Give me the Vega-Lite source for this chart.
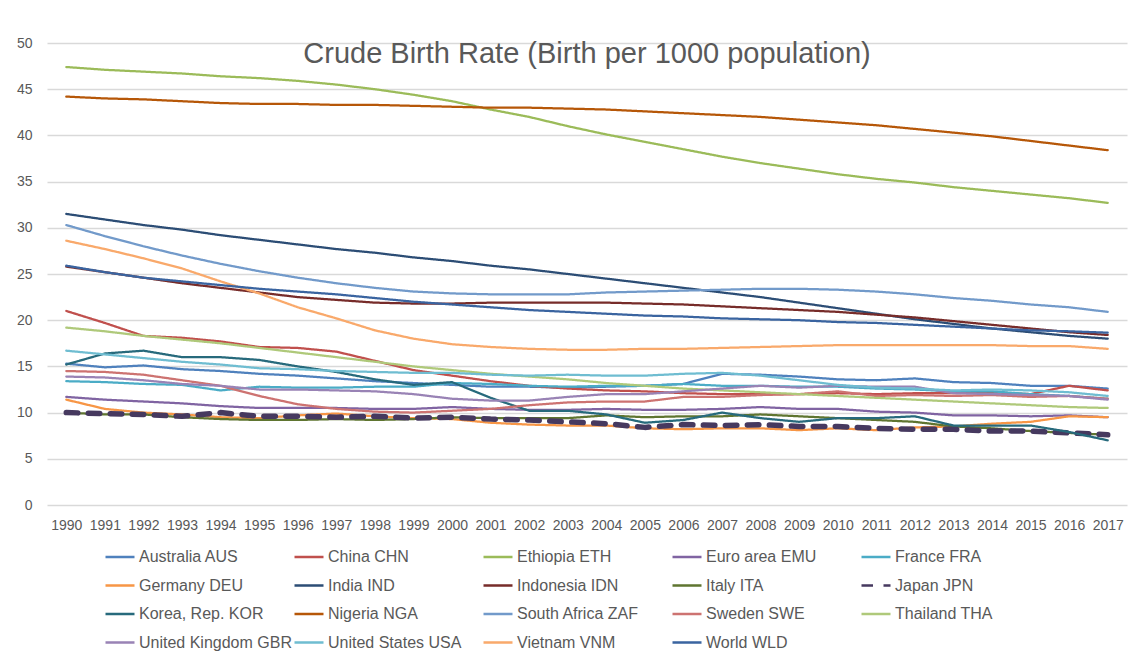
{
"$schema": "https://vega.github.io/schema/vega-lite/v6.json",
"autosize": {"type": "none"},
"width": 1080,
"height": 462,
"padding": {"left": 47, "top": 43, "right": 4, "bottom": 149},
"background": "white",
"config": {"view": {"stroke": null}},
"title": {"text": "Crude Birth Rate (Birth per 1000 population)", "frame": "group", "anchor": "middle", "font": "Liberation Sans", "fontSize": 29, "fontWeight": "normal", "color": "#595959", "baseline": "alphabetic", "offset": -56},
"data": {"values": [
{"c":"Australia AUS","y":1990,"v":15.3},{"c":"Australia AUS","y":1991,"v":14.9},{"c":"Australia AUS","y":1992,"v":15.1},{"c":"Australia AUS","y":1993,"v":14.7},{"c":"Australia AUS","y":1994,"v":14.5},{"c":"Australia AUS","y":1995,"v":14.2},{"c":"Australia AUS","y":1996,"v":14.0},{"c":"Australia AUS","y":1997,"v":13.7},{"c":"Australia AUS","y":1998,"v":13.4},{"c":"Australia AUS","y":1999,"v":13.2},{"c":"Australia AUS","y":2000,"v":13.0},{"c":"Australia AUS","y":2001,"v":12.8},{"c":"Australia AUS","y":2002,"v":12.8},{"c":"Australia AUS","y":2003,"v":12.7},{"c":"Australia AUS","y":2004,"v":12.8},{"c":"Australia AUS","y":2005,"v":12.9},{"c":"Australia AUS","y":2006,"v":13.1},{"c":"Australia AUS","y":2007,"v":14.2},{"c":"Australia AUS","y":2008,"v":14.1},{"c":"Australia AUS","y":2009,"v":13.9},{"c":"Australia AUS","y":2010,"v":13.6},{"c":"Australia AUS","y":2011,"v":13.5},{"c":"Australia AUS","y":2012,"v":13.7},{"c":"Australia AUS","y":2013,"v":13.3},{"c":"Australia AUS","y":2014,"v":13.2},{"c":"Australia AUS","y":2015,"v":12.9},{"c":"Australia AUS","y":2016,"v":12.9},{"c":"Australia AUS","y":2017,"v":12.6},
{"c":"China CHN","y":1990,"v":21.0},{"c":"China CHN","y":1991,"v":19.7},{"c":"China CHN","y":1992,"v":18.3},{"c":"China CHN","y":1993,"v":18.1},{"c":"China CHN","y":1994,"v":17.7},{"c":"China CHN","y":1995,"v":17.1},{"c":"China CHN","y":1996,"v":17.0},{"c":"China CHN","y":1997,"v":16.6},{"c":"China CHN","y":1998,"v":15.6},{"c":"China CHN","y":1999,"v":14.6},{"c":"China CHN","y":2000,"v":14.0},{"c":"China CHN","y":2001,"v":13.4},{"c":"China CHN","y":2002,"v":12.9},{"c":"China CHN","y":2003,"v":12.6},{"c":"China CHN","y":2004,"v":12.4},{"c":"China CHN","y":2005,"v":12.3},{"c":"China CHN","y":2006,"v":12.1},{"c":"China CHN","y":2007,"v":12.0},{"c":"China CHN","y":2008,"v":12.0},{"c":"China CHN","y":2009,"v":12.0},{"c":"China CHN","y":2010,"v":12.1},{"c":"China CHN","y":2011,"v":12.0},{"c":"China CHN","y":2012,"v":12.1},{"c":"China CHN","y":2013,"v":12.1},{"c":"China CHN","y":2014,"v":12.2},{"c":"China CHN","y":2015,"v":12.0},{"c":"China CHN","y":2016,"v":12.9},{"c":"China CHN","y":2017,"v":12.4},
{"c":"Ethiopia ETH","y":1990,"v":47.4},{"c":"Ethiopia ETH","y":1991,"v":47.1},{"c":"Ethiopia ETH","y":1992,"v":46.9},{"c":"Ethiopia ETH","y":1993,"v":46.7},{"c":"Ethiopia ETH","y":1994,"v":46.4},{"c":"Ethiopia ETH","y":1995,"v":46.2},{"c":"Ethiopia ETH","y":1996,"v":45.9},{"c":"Ethiopia ETH","y":1997,"v":45.5},{"c":"Ethiopia ETH","y":1998,"v":45.0},{"c":"Ethiopia ETH","y":1999,"v":44.4},{"c":"Ethiopia ETH","y":2000,"v":43.7},{"c":"Ethiopia ETH","y":2001,"v":42.8},{"c":"Ethiopia ETH","y":2002,"v":42.0},{"c":"Ethiopia ETH","y":2003,"v":41.0},{"c":"Ethiopia ETH","y":2004,"v":40.1},{"c":"Ethiopia ETH","y":2005,"v":39.3},{"c":"Ethiopia ETH","y":2006,"v":38.5},{"c":"Ethiopia ETH","y":2007,"v":37.7},{"c":"Ethiopia ETH","y":2008,"v":37.0},{"c":"Ethiopia ETH","y":2009,"v":36.4},{"c":"Ethiopia ETH","y":2010,"v":35.8},{"c":"Ethiopia ETH","y":2011,"v":35.3},{"c":"Ethiopia ETH","y":2012,"v":34.9},{"c":"Ethiopia ETH","y":2013,"v":34.4},{"c":"Ethiopia ETH","y":2014,"v":34.0},{"c":"Ethiopia ETH","y":2015,"v":33.6},{"c":"Ethiopia ETH","y":2016,"v":33.2},{"c":"Ethiopia ETH","y":2017,"v":32.7},
{"c":"Euro area EMU","y":1990,"v":11.7},{"c":"Euro area EMU","y":1991,"v":11.4},{"c":"Euro area EMU","y":1992,"v":11.2},{"c":"Euro area EMU","y":1993,"v":11.0},{"c":"Euro area EMU","y":1994,"v":10.7},{"c":"Euro area EMU","y":1995,"v":10.5},{"c":"Euro area EMU","y":1996,"v":10.5},{"c":"Euro area EMU","y":1997,"v":10.5},{"c":"Euro area EMU","y":1998,"v":10.4},{"c":"Euro area EMU","y":1999,"v":10.4},{"c":"Euro area EMU","y":2000,"v":10.6},{"c":"Euro area EMU","y":2001,"v":10.4},{"c":"Euro area EMU","y":2002,"v":10.3},{"c":"Euro area EMU","y":2003,"v":10.3},{"c":"Euro area EMU","y":2004,"v":10.4},{"c":"Euro area EMU","y":2005,"v":10.3},{"c":"Euro area EMU","y":2006,"v":10.3},{"c":"Euro area EMU","y":2007,"v":10.4},{"c":"Euro area EMU","y":2008,"v":10.6},{"c":"Euro area EMU","y":2009,"v":10.4},{"c":"Euro area EMU","y":2010,"v":10.4},{"c":"Euro area EMU","y":2011,"v":10.1},{"c":"Euro area EMU","y":2012,"v":10.0},{"c":"Euro area EMU","y":2013,"v":9.7},{"c":"Euro area EMU","y":2014,"v":9.7},{"c":"Euro area EMU","y":2015,"v":9.6},{"c":"Euro area EMU","y":2016,"v":9.7},{"c":"Euro area EMU","y":2017,"v":9.5},
{"c":"France FRA","y":1990,"v":13.4},{"c":"France FRA","y":1991,"v":13.3},{"c":"France FRA","y":1992,"v":13.1},{"c":"France FRA","y":1993,"v":13.0},{"c":"France FRA","y":1994,"v":12.4},{"c":"France FRA","y":1995,"v":12.8},{"c":"France FRA","y":1996,"v":12.7},{"c":"France FRA","y":1997,"v":12.7},{"c":"France FRA","y":1998,"v":12.8},{"c":"France FRA","y":1999,"v":12.8},{"c":"France FRA","y":2000,"v":13.2},{"c":"France FRA","y":2001,"v":13.1},{"c":"France FRA","y":2002,"v":12.9},{"c":"France FRA","y":2003,"v":12.8},{"c":"France FRA","y":2004,"v":12.9},{"c":"France FRA","y":2005,"v":12.9},{"c":"France FRA","y":2006,"v":13.1},{"c":"France FRA","y":2007,"v":12.9},{"c":"France FRA","y":2008,"v":12.9},{"c":"France FRA","y":2009,"v":12.8},{"c":"France FRA","y":2010,"v":12.8},{"c":"France FRA","y":2011,"v":12.6},{"c":"France FRA","y":2012,"v":12.5},{"c":"France FRA","y":2013,"v":12.3},{"c":"France FRA","y":2014,"v":12.3},{"c":"France FRA","y":2015,"v":12.0},{"c":"France FRA","y":2016,"v":11.8},{"c":"France FRA","y":2017,"v":11.5},
{"c":"Germany DEU","y":1990,"v":11.4},{"c":"Germany DEU","y":1991,"v":10.4},{"c":"Germany DEU","y":1992,"v":10.0},{"c":"Germany DEU","y":1993,"v":9.8},{"c":"Germany DEU","y":1994,"v":9.5},{"c":"Germany DEU","y":1995,"v":9.4},{"c":"Germany DEU","y":1996,"v":9.7},{"c":"Germany DEU","y":1997,"v":9.9},{"c":"Germany DEU","y":1998,"v":9.6},{"c":"Germany DEU","y":1999,"v":9.4},{"c":"Germany DEU","y":2000,"v":9.3},{"c":"Germany DEU","y":2001,"v":8.9},{"c":"Germany DEU","y":2002,"v":8.7},{"c":"Germany DEU","y":2003,"v":8.6},{"c":"Germany DEU","y":2004,"v":8.6},{"c":"Germany DEU","y":2005,"v":8.3},{"c":"Germany DEU","y":2006,"v":8.2},{"c":"Germany DEU","y":2007,"v":8.3},{"c":"Germany DEU","y":2008,"v":8.3},{"c":"Germany DEU","y":2009,"v":8.1},{"c":"Germany DEU","y":2010,"v":8.3},{"c":"Germany DEU","y":2011,"v":8.1},{"c":"Germany DEU","y":2012,"v":8.4},{"c":"Germany DEU","y":2013,"v":8.5},{"c":"Germany DEU","y":2014,"v":8.8},{"c":"Germany DEU","y":2015,"v":9.0},{"c":"Germany DEU","y":2016,"v":9.6},{"c":"Germany DEU","y":2017,"v":9.5},
{"c":"India IND","y":1990,"v":31.5},{"c":"India IND","y":1991,"v":30.9},{"c":"India IND","y":1992,"v":30.3},{"c":"India IND","y":1993,"v":29.8},{"c":"India IND","y":1994,"v":29.2},{"c":"India IND","y":1995,"v":28.7},{"c":"India IND","y":1996,"v":28.2},{"c":"India IND","y":1997,"v":27.7},{"c":"India IND","y":1998,"v":27.3},{"c":"India IND","y":1999,"v":26.8},{"c":"India IND","y":2000,"v":26.4},{"c":"India IND","y":2001,"v":25.9},{"c":"India IND","y":2002,"v":25.5},{"c":"India IND","y":2003,"v":25.0},{"c":"India IND","y":2004,"v":24.5},{"c":"India IND","y":2005,"v":24.0},{"c":"India IND","y":2006,"v":23.5},{"c":"India IND","y":2007,"v":23.0},{"c":"India IND","y":2008,"v":22.5},{"c":"India IND","y":2009,"v":21.9},{"c":"India IND","y":2010,"v":21.3},{"c":"India IND","y":2011,"v":20.7},{"c":"India IND","y":2012,"v":20.1},{"c":"India IND","y":2013,"v":19.6},{"c":"India IND","y":2014,"v":19.1},{"c":"India IND","y":2015,"v":18.7},{"c":"India IND","y":2016,"v":18.3},{"c":"India IND","y":2017,"v":18.0},
{"c":"Indonesia IDN","y":1990,"v":25.8},{"c":"Indonesia IDN","y":1991,"v":25.2},{"c":"Indonesia IDN","y":1992,"v":24.6},{"c":"Indonesia IDN","y":1993,"v":24.0},{"c":"Indonesia IDN","y":1994,"v":23.5},{"c":"Indonesia IDN","y":1995,"v":23.0},{"c":"Indonesia IDN","y":1996,"v":22.5},{"c":"Indonesia IDN","y":1997,"v":22.2},{"c":"Indonesia IDN","y":1998,"v":21.9},{"c":"Indonesia IDN","y":1999,"v":21.8},{"c":"Indonesia IDN","y":2000,"v":21.8},{"c":"Indonesia IDN","y":2001,"v":21.9},{"c":"Indonesia IDN","y":2002,"v":21.9},{"c":"Indonesia IDN","y":2003,"v":21.9},{"c":"Indonesia IDN","y":2004,"v":21.9},{"c":"Indonesia IDN","y":2005,"v":21.8},{"c":"Indonesia IDN","y":2006,"v":21.7},{"c":"Indonesia IDN","y":2007,"v":21.5},{"c":"Indonesia IDN","y":2008,"v":21.3},{"c":"Indonesia IDN","y":2009,"v":21.1},{"c":"Indonesia IDN","y":2010,"v":20.9},{"c":"Indonesia IDN","y":2011,"v":20.6},{"c":"Indonesia IDN","y":2012,"v":20.3},{"c":"Indonesia IDN","y":2013,"v":19.9},{"c":"Indonesia IDN","y":2014,"v":19.5},{"c":"Indonesia IDN","y":2015,"v":19.1},{"c":"Indonesia IDN","y":2016,"v":18.7},{"c":"Indonesia IDN","y":2017,"v":18.4},
{"c":"Italy ITA","y":1990,"v":10.0},{"c":"Italy ITA","y":1991,"v":9.8},{"c":"Italy ITA","y":1992,"v":9.8},{"c":"Italy ITA","y":1993,"v":9.5},{"c":"Italy ITA","y":1994,"v":9.3},{"c":"Italy ITA","y":1995,"v":9.2},{"c":"Italy ITA","y":1996,"v":9.2},{"c":"Italy ITA","y":1997,"v":9.3},{"c":"Italy ITA","y":1998,"v":9.2},{"c":"Italy ITA","y":1999,"v":9.3},{"c":"Italy ITA","y":2000,"v":9.5},{"c":"Italy ITA","y":2001,"v":9.4},{"c":"Italy ITA","y":2002,"v":9.4},{"c":"Italy ITA","y":2003,"v":9.4},{"c":"Italy ITA","y":2004,"v":9.7},{"c":"Italy ITA","y":2005,"v":9.5},{"c":"Italy ITA","y":2006,"v":9.6},{"c":"Italy ITA","y":2007,"v":9.6},{"c":"Italy ITA","y":2008,"v":9.8},{"c":"Italy ITA","y":2009,"v":9.6},{"c":"Italy ITA","y":2010,"v":9.4},{"c":"Italy ITA","y":2011,"v":9.2},{"c":"Italy ITA","y":2012,"v":9.0},{"c":"Italy ITA","y":2013,"v":8.5},{"c":"Italy ITA","y":2014,"v":8.3},{"c":"Italy ITA","y":2015,"v":8.0},{"c":"Italy ITA","y":2016,"v":7.8},{"c":"Italy ITA","y":2017,"v":7.6},
{"c":"Japan JPN","y":1990,"v":10.0},{"c":"Japan JPN","y":1991,"v":9.9},{"c":"Japan JPN","y":1992,"v":9.8},{"c":"Japan JPN","y":1993,"v":9.6},{"c":"Japan JPN","y":1994,"v":10.0},{"c":"Japan JPN","y":1995,"v":9.6},{"c":"Japan JPN","y":1996,"v":9.6},{"c":"Japan JPN","y":1997,"v":9.5},{"c":"Japan JPN","y":1998,"v":9.6},{"c":"Japan JPN","y":1999,"v":9.4},{"c":"Japan JPN","y":2000,"v":9.5},{"c":"Japan JPN","y":2001,"v":9.3},{"c":"Japan JPN","y":2002,"v":9.2},{"c":"Japan JPN","y":2003,"v":9.0},{"c":"Japan JPN","y":2004,"v":8.8},{"c":"Japan JPN","y":2005,"v":8.4},{"c":"Japan JPN","y":2006,"v":8.7},{"c":"Japan JPN","y":2007,"v":8.6},{"c":"Japan JPN","y":2008,"v":8.7},{"c":"Japan JPN","y":2009,"v":8.5},{"c":"Japan JPN","y":2010,"v":8.5},{"c":"Japan JPN","y":2011,"v":8.3},{"c":"Japan JPN","y":2012,"v":8.2},{"c":"Japan JPN","y":2013,"v":8.2},{"c":"Japan JPN","y":2014,"v":8.0},{"c":"Japan JPN","y":2015,"v":8.0},{"c":"Japan JPN","y":2016,"v":7.8},{"c":"Japan JPN","y":2017,"v":7.6},
{"c":"Korea, Rep. KOR","y":1990,"v":15.2},{"c":"Korea, Rep. KOR","y":1991,"v":16.4},{"c":"Korea, Rep. KOR","y":1992,"v":16.7},{"c":"Korea, Rep. KOR","y":1993,"v":16.0},{"c":"Korea, Rep. KOR","y":1994,"v":16.0},{"c":"Korea, Rep. KOR","y":1995,"v":15.7},{"c":"Korea, Rep. KOR","y":1996,"v":15.0},{"c":"Korea, Rep. KOR","y":1997,"v":14.4},{"c":"Korea, Rep. KOR","y":1998,"v":13.6},{"c":"Korea, Rep. KOR","y":1999,"v":13.0},{"c":"Korea, Rep. KOR","y":2000,"v":13.3},{"c":"Korea, Rep. KOR","y":2001,"v":11.6},{"c":"Korea, Rep. KOR","y":2002,"v":10.2},{"c":"Korea, Rep. KOR","y":2003,"v":10.2},{"c":"Korea, Rep. KOR","y":2004,"v":9.8},{"c":"Korea, Rep. KOR","y":2005,"v":8.9},{"c":"Korea, Rep. KOR","y":2006,"v":9.2},{"c":"Korea, Rep. KOR","y":2007,"v":10.0},{"c":"Korea, Rep. KOR","y":2008,"v":9.4},{"c":"Korea, Rep. KOR","y":2009,"v":9.0},{"c":"Korea, Rep. KOR","y":2010,"v":9.4},{"c":"Korea, Rep. KOR","y":2011,"v":9.4},{"c":"Korea, Rep. KOR","y":2012,"v":9.6},{"c":"Korea, Rep. KOR","y":2013,"v":8.6},{"c":"Korea, Rep. KOR","y":2014,"v":8.6},{"c":"Korea, Rep. KOR","y":2015,"v":8.6},{"c":"Korea, Rep. KOR","y":2016,"v":7.9},{"c":"Korea, Rep. KOR","y":2017,"v":7.0},
{"c":"Nigeria NGA","y":1990,"v":44.2},{"c":"Nigeria NGA","y":1991,"v":44.0},{"c":"Nigeria NGA","y":1992,"v":43.9},{"c":"Nigeria NGA","y":1993,"v":43.7},{"c":"Nigeria NGA","y":1994,"v":43.5},{"c":"Nigeria NGA","y":1995,"v":43.4},{"c":"Nigeria NGA","y":1996,"v":43.4},{"c":"Nigeria NGA","y":1997,"v":43.3},{"c":"Nigeria NGA","y":1998,"v":43.3},{"c":"Nigeria NGA","y":1999,"v":43.2},{"c":"Nigeria NGA","y":2000,"v":43.1},{"c":"Nigeria NGA","y":2001,"v":43.0},{"c":"Nigeria NGA","y":2002,"v":43.0},{"c":"Nigeria NGA","y":2003,"v":42.9},{"c":"Nigeria NGA","y":2004,"v":42.8},{"c":"Nigeria NGA","y":2005,"v":42.6},{"c":"Nigeria NGA","y":2006,"v":42.4},{"c":"Nigeria NGA","y":2007,"v":42.2},{"c":"Nigeria NGA","y":2008,"v":42.0},{"c":"Nigeria NGA","y":2009,"v":41.7},{"c":"Nigeria NGA","y":2010,"v":41.4},{"c":"Nigeria NGA","y":2011,"v":41.1},{"c":"Nigeria NGA","y":2012,"v":40.7},{"c":"Nigeria NGA","y":2013,"v":40.3},{"c":"Nigeria NGA","y":2014,"v":39.9},{"c":"Nigeria NGA","y":2015,"v":39.4},{"c":"Nigeria NGA","y":2016,"v":38.9},{"c":"Nigeria NGA","y":2017,"v":38.4},
{"c":"South Africa ZAF","y":1990,"v":30.3},{"c":"South Africa ZAF","y":1991,"v":29.1},{"c":"South Africa ZAF","y":1992,"v":28.0},{"c":"South Africa ZAF","y":1993,"v":27.0},{"c":"South Africa ZAF","y":1994,"v":26.1},{"c":"South Africa ZAF","y":1995,"v":25.3},{"c":"South Africa ZAF","y":1996,"v":24.6},{"c":"South Africa ZAF","y":1997,"v":24.0},{"c":"South Africa ZAF","y":1998,"v":23.5},{"c":"South Africa ZAF","y":1999,"v":23.1},{"c":"South Africa ZAF","y":2000,"v":22.9},{"c":"South Africa ZAF","y":2001,"v":22.8},{"c":"South Africa ZAF","y":2002,"v":22.8},{"c":"South Africa ZAF","y":2003,"v":22.8},{"c":"South Africa ZAF","y":2004,"v":23.0},{"c":"South Africa ZAF","y":2005,"v":23.1},{"c":"South Africa ZAF","y":2006,"v":23.2},{"c":"South Africa ZAF","y":2007,"v":23.3},{"c":"South Africa ZAF","y":2008,"v":23.4},{"c":"South Africa ZAF","y":2009,"v":23.4},{"c":"South Africa ZAF","y":2010,"v":23.3},{"c":"South Africa ZAF","y":2011,"v":23.1},{"c":"South Africa ZAF","y":2012,"v":22.8},{"c":"South Africa ZAF","y":2013,"v":22.4},{"c":"South Africa ZAF","y":2014,"v":22.1},{"c":"South Africa ZAF","y":2015,"v":21.7},{"c":"South Africa ZAF","y":2016,"v":21.4},{"c":"South Africa ZAF","y":2017,"v":20.9},
{"c":"Sweden SWE","y":1990,"v":14.5},{"c":"Sweden SWE","y":1991,"v":14.4},{"c":"Sweden SWE","y":1992,"v":14.1},{"c":"Sweden SWE","y":1993,"v":13.5},{"c":"Sweden SWE","y":1994,"v":12.9},{"c":"Sweden SWE","y":1995,"v":11.8},{"c":"Sweden SWE","y":1996,"v":10.9},{"c":"Sweden SWE","y":1997,"v":10.4},{"c":"Sweden SWE","y":1998,"v":10.1},{"c":"Sweden SWE","y":1999,"v":10.0},{"c":"Sweden SWE","y":2000,"v":10.2},{"c":"Sweden SWE","y":2001,"v":10.4},{"c":"Sweden SWE","y":2002,"v":10.8},{"c":"Sweden SWE","y":2003,"v":11.1},{"c":"Sweden SWE","y":2004,"v":11.2},{"c":"Sweden SWE","y":2005,"v":11.2},{"c":"Sweden SWE","y":2006,"v":11.7},{"c":"Sweden SWE","y":2007,"v":11.7},{"c":"Sweden SWE","y":2008,"v":11.9},{"c":"Sweden SWE","y":2009,"v":12.0},{"c":"Sweden SWE","y":2010,"v":12.3},{"c":"Sweden SWE","y":2011,"v":11.8},{"c":"Sweden SWE","y":2012,"v":11.9},{"c":"Sweden SWE","y":2013,"v":11.8},{"c":"Sweden SWE","y":2014,"v":11.9},{"c":"Sweden SWE","y":2015,"v":11.7},{"c":"Sweden SWE","y":2016,"v":11.8},{"c":"Sweden SWE","y":2017,"v":11.5},
{"c":"Thailand THA","y":1990,"v":19.2},{"c":"Thailand THA","y":1991,"v":18.8},{"c":"Thailand THA","y":1992,"v":18.3},{"c":"Thailand THA","y":1993,"v":17.9},{"c":"Thailand THA","y":1994,"v":17.5},{"c":"Thailand THA","y":1995,"v":17.0},{"c":"Thailand THA","y":1996,"v":16.5},{"c":"Thailand THA","y":1997,"v":16.0},{"c":"Thailand THA","y":1998,"v":15.5},{"c":"Thailand THA","y":1999,"v":15.0},{"c":"Thailand THA","y":2000,"v":14.6},{"c":"Thailand THA","y":2001,"v":14.2},{"c":"Thailand THA","y":2002,"v":13.9},{"c":"Thailand THA","y":2003,"v":13.6},{"c":"Thailand THA","y":2004,"v":13.2},{"c":"Thailand THA","y":2005,"v":12.9},{"c":"Thailand THA","y":2006,"v":12.6},{"c":"Thailand THA","y":2007,"v":12.4},{"c":"Thailand THA","y":2008,"v":12.2},{"c":"Thailand THA","y":2009,"v":12.0},{"c":"Thailand THA","y":2010,"v":11.8},{"c":"Thailand THA","y":2011,"v":11.6},{"c":"Thailand THA","y":2012,"v":11.4},{"c":"Thailand THA","y":2013,"v":11.2},{"c":"Thailand THA","y":2014,"v":11.0},{"c":"Thailand THA","y":2015,"v":10.8},{"c":"Thailand THA","y":2016,"v":10.6},{"c":"Thailand THA","y":2017,"v":10.5},
{"c":"United Kingdom GBR","y":1990,"v":13.9},{"c":"United Kingdom GBR","y":1991,"v":13.8},{"c":"United Kingdom GBR","y":1992,"v":13.5},{"c":"United Kingdom GBR","y":1993,"v":13.1},{"c":"United Kingdom GBR","y":1994,"v":12.9},{"c":"United Kingdom GBR","y":1995,"v":12.5},{"c":"United Kingdom GBR","y":1996,"v":12.5},{"c":"United Kingdom GBR","y":1997,"v":12.4},{"c":"United Kingdom GBR","y":1998,"v":12.3},{"c":"United Kingdom GBR","y":1999,"v":12.0},{"c":"United Kingdom GBR","y":2000,"v":11.5},{"c":"United Kingdom GBR","y":2001,"v":11.3},{"c":"United Kingdom GBR","y":2002,"v":11.3},{"c":"United Kingdom GBR","y":2003,"v":11.7},{"c":"United Kingdom GBR","y":2004,"v":12.0},{"c":"United Kingdom GBR","y":2005,"v":12.0},{"c":"United Kingdom GBR","y":2006,"v":12.3},{"c":"United Kingdom GBR","y":2007,"v":12.6},{"c":"United Kingdom GBR","y":2008,"v":12.9},{"c":"United Kingdom GBR","y":2009,"v":12.7},{"c":"United Kingdom GBR","y":2010,"v":12.9},{"c":"United Kingdom GBR","y":2011,"v":12.8},{"c":"United Kingdom GBR","y":2012,"v":12.8},{"c":"United Kingdom GBR","y":2013,"v":12.1},{"c":"United Kingdom GBR","y":2014,"v":12.0},{"c":"United Kingdom GBR","y":2015,"v":11.9},{"c":"United Kingdom GBR","y":2016,"v":11.8},{"c":"United Kingdom GBR","y":2017,"v":11.4},
{"c":"United States USA","y":1990,"v":16.7},{"c":"United States USA","y":1991,"v":16.3},{"c":"United States USA","y":1992,"v":15.9},{"c":"United States USA","y":1993,"v":15.5},{"c":"United States USA","y":1994,"v":15.2},{"c":"United States USA","y":1995,"v":14.8},{"c":"United States USA","y":1996,"v":14.7},{"c":"United States USA","y":1997,"v":14.5},{"c":"United States USA","y":1998,"v":14.4},{"c":"United States USA","y":1999,"v":14.3},{"c":"United States USA","y":2000,"v":14.3},{"c":"United States USA","y":2001,"v":14.1},{"c":"United States USA","y":2002,"v":14.0},{"c":"United States USA","y":2003,"v":14.1},{"c":"United States USA","y":2004,"v":14.0},{"c":"United States USA","y":2005,"v":14.0},{"c":"United States USA","y":2006,"v":14.2},{"c":"United States USA","y":2007,"v":14.3},{"c":"United States USA","y":2008,"v":14.0},{"c":"United States USA","y":2009,"v":13.5},{"c":"United States USA","y":2010,"v":13.0},{"c":"United States USA","y":2011,"v":12.7},{"c":"United States USA","y":2012,"v":12.6},{"c":"United States USA","y":2013,"v":12.4},{"c":"United States USA","y":2014,"v":12.5},{"c":"United States USA","y":2015,"v":12.4},{"c":"United States USA","y":2016,"v":12.2},{"c":"United States USA","y":2017,"v":11.8},
{"c":"Vietnam VNM","y":1990,"v":28.6},{"c":"Vietnam VNM","y":1991,"v":27.7},{"c":"Vietnam VNM","y":1992,"v":26.7},{"c":"Vietnam VNM","y":1993,"v":25.6},{"c":"Vietnam VNM","y":1994,"v":24.2},{"c":"Vietnam VNM","y":1995,"v":22.9},{"c":"Vietnam VNM","y":1996,"v":21.4},{"c":"Vietnam VNM","y":1997,"v":20.2},{"c":"Vietnam VNM","y":1998,"v":18.9},{"c":"Vietnam VNM","y":1999,"v":18.0},{"c":"Vietnam VNM","y":2000,"v":17.4},{"c":"Vietnam VNM","y":2001,"v":17.1},{"c":"Vietnam VNM","y":2002,"v":16.9},{"c":"Vietnam VNM","y":2003,"v":16.8},{"c":"Vietnam VNM","y":2004,"v":16.8},{"c":"Vietnam VNM","y":2005,"v":16.9},{"c":"Vietnam VNM","y":2006,"v":16.9},{"c":"Vietnam VNM","y":2007,"v":17.0},{"c":"Vietnam VNM","y":2008,"v":17.1},{"c":"Vietnam VNM","y":2009,"v":17.2},{"c":"Vietnam VNM","y":2010,"v":17.3},{"c":"Vietnam VNM","y":2011,"v":17.3},{"c":"Vietnam VNM","y":2012,"v":17.3},{"c":"Vietnam VNM","y":2013,"v":17.3},{"c":"Vietnam VNM","y":2014,"v":17.3},{"c":"Vietnam VNM","y":2015,"v":17.2},{"c":"Vietnam VNM","y":2016,"v":17.2},{"c":"Vietnam VNM","y":2017,"v":16.9},
{"c":"World WLD","y":1990,"v":25.9},{"c":"World WLD","y":1991,"v":25.2},{"c":"World WLD","y":1992,"v":24.6},{"c":"World WLD","y":1993,"v":24.2},{"c":"World WLD","y":1994,"v":23.8},{"c":"World WLD","y":1995,"v":23.4},{"c":"World WLD","y":1996,"v":23.1},{"c":"World WLD","y":1997,"v":22.8},{"c":"World WLD","y":1998,"v":22.4},{"c":"World WLD","y":1999,"v":22.0},{"c":"World WLD","y":2000,"v":21.7},{"c":"World WLD","y":2001,"v":21.4},{"c":"World WLD","y":2002,"v":21.1},{"c":"World WLD","y":2003,"v":20.9},{"c":"World WLD","y":2004,"v":20.7},{"c":"World WLD","y":2005,"v":20.5},{"c":"World WLD","y":2006,"v":20.4},{"c":"World WLD","y":2007,"v":20.2},{"c":"World WLD","y":2008,"v":20.1},{"c":"World WLD","y":2009,"v":20.0},{"c":"World WLD","y":2010,"v":19.8},{"c":"World WLD","y":2011,"v":19.7},{"c":"World WLD","y":2012,"v":19.5},{"c":"World WLD","y":2013,"v":19.3},{"c":"World WLD","y":2014,"v":19.1},{"c":"World WLD","y":2015,"v":18.9},{"c":"World WLD","y":2016,"v":18.8},{"c":"World WLD","y":2017,"v":18.65}
]},
"mark": {"type": "line", "strokeCap": "round", "strokeJoin": "round"},
"encoding": {
"x": {"field": "y", "type": "ordinal", "scale": {"type": "point", "padding": 0.5}, "axis": {"title": null, "domain": false, "ticks": false, "grid": false, "labelAngle": 0, "labelPadding": 13, "labelFont": "Liberation Sans", "labelFontSize": 14, "labelColor": "#595959"}},
"y": {"field": "v", "type": "quantitative", "scale": {"domain": [0, 50], "nice": false, "zero": true}, "axis": {"title": null, "values": [0,5,10,15,20,25,30,35,40,45,50], "domain": false, "ticks": false, "labelPadding": 15, "labelFont": "Liberation Sans", "labelFontSize": 14, "labelColor": "#595959", "gridColor": "#d9d9d9", "gridWidth": 1.3}},
"color": {"field": "c", "type": "nominal", "title": null,
 "scale": {"domain": ["Australia AUS","China CHN","Ethiopia ETH","Euro area EMU","France FRA","Germany DEU","India IND","Indonesia IDN","Italy ITA","Japan JPN","Korea, Rep. KOR","Nigeria NGA","South Africa ZAF","Sweden SWE","Thailand THA","United Kingdom GBR","United States USA","Vietnam VNM","World WLD"],
  "range": ["#4F81BD","#C0504D","#9BBB59","#8064A2","#4BACC6","#F79646","#2C4D75","#772C2A","#5F7530","#46395F","#276A7C","#B65708","#729ACA","#CD7371","#AFC97A","#9983B5","#6FBDD1","#F9A96B","#3A64A0"]},
 "legend": {"orient": "none", "legendX": 57, "legendY": 498, "direction": "horizontal", "columns": 5, "gridAlign": "all", "columnPadding": -3, "rowPadding": 4.5, "symbolType": "stroke", "symbolSize": 841, "symbolStrokeWidth": 2.5, "labelFont": "Liberation Sans", "labelFontSize": 16, "labelColor": "#595959", "labelOffset": 3, "labelLimit": 300}},
"strokeDash": {"field": "c", "type": "nominal", "title": null,
 "scale": {"domain": ["Australia AUS","China CHN","Ethiopia ETH","Euro area EMU","France FRA","Germany DEU","India IND","Indonesia IDN","Italy ITA","Japan JPN","Korea, Rep. KOR","Nigeria NGA","South Africa ZAF","Sweden SWE","Thailand THA","United Kingdom GBR","United States USA","Vietnam VNM","World WLD"],
  "range": [[1,0],[1,0],[1,0],[1,0],[1,0],[1,0],[1,0],[1,0],[1,0],[11.5,10.5],[1,0],[1,0],[1,0],[1,0],[1,0],[1,0],[1,0],[1,0],[1,0]]}},
"strokeWidth": {"condition": {"test": "datum.c === 'Japan JPN'", "value": 5.5}, "value": 2.25}
}
}
